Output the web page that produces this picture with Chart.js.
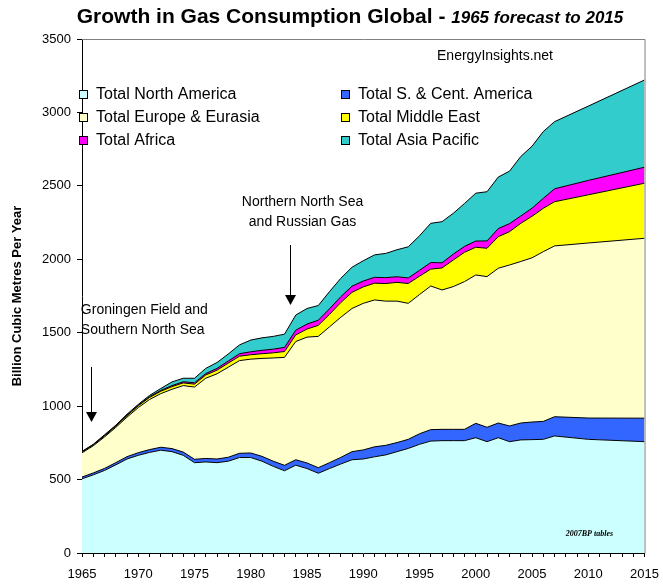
<!DOCTYPE html>
<html>
<head>
<meta charset="utf-8">
<script src="https://cdn.jsdelivr.net/npm/chart.js@4.4.1/dist/chart.umd.min.js"></script>
<style>
  body { margin: 0; background: #fff; }
  #wrap { position: relative; width: 663px; height: 585px; }
</style>
</head>
<body>
<div id="wrap"><canvas id="chart"></canvas></div>
<script>
// 年（1965〜2007は実績、2010と2015は予測）
const years = [1965, 1966, 1967, 1968, 1969, 1970, 1971, 1972, 1973, 1974,
  1975, 1976, 1977, 1978, 1979, 1980, 1981, 1982, 1983, 1984,
  1985, 1986, 1987, 1988, 1989, 1990, 1991, 1992, 1993, 1994,
  1995, 1996, 1997, 1998, 1999, 2000, 2001, 2002, 2003, 2004,
  2005, 2006, 2007, 2010, 2015];

// 地域別の消費量 (bcm)
const northAmerica = [505, 532, 562, 600, 640, 665, 685, 700, 690, 665,
  615, 620, 615, 625, 650, 650, 625, 590, 560, 598,
  575, 543, 575, 606, 635, 640, 655, 668, 690, 712,
  740, 762, 765, 765, 765, 785, 758, 785, 758, 770,
  772, 774, 797, 774, 758];
const southCentAmerica = [12, 13, 14, 15, 16, 18, 19, 20, 21, 22,
  23, 24, 25, 27, 29, 31, 33, 35, 37, 37,
  38, 38, 40, 45, 55, 62, 68, 65, 62, 62,
  72, 78, 77, 77, 77, 98, 98, 100, 107, 115,
  120, 122, 131, 145, 160];
const europeEurasia = [165, 185, 214, 240, 269, 307, 341, 365, 404, 453,
  492, 546, 580, 613, 631, 639, 667, 703, 735, 805,
  857, 894, 925, 954, 975, 998, 1000, 982, 963, 926,
  948, 978, 949, 972, 1006, 1010, 1026, 1054, 1096, 1100,
  1118, 1156, 1163, 1192, 1225];
const middleEast = [5, 6, 7, 8, 10, 12, 14, 16, 18, 18,
  20, 22, 25, 28, 30, 30, 32, 35, 40, 45,
  55, 75, 85, 100, 110, 112, 114, 120, 128, 135,
  125, 115, 150, 181, 200, 189, 193, 215, 227, 260,
  283, 295, 301, 328, 375];
const africa = [2, 2, 3, 3, 4, 4, 5, 6, 7, 8,
  9, 10, 12, 14, 17, 20, 23, 25, 28, 32,
  34, 35, 38, 40, 42, 40, 40, 40, 38, 38,
  40, 45, 35, 40, 40, 42, 50, 55, 55, 50,
  55, 68, 88, 98, 109];
const asiaPacific = [3, 2, 5, 4, 6, 6, 9, 13, 25, 24,
  31, 35, 40, 48, 60, 80, 85, 87, 90, 103,
  106, 100, 117, 125, 129, 138, 153, 165, 184, 212,
  235, 267, 280, 278, 292, 326, 335, 351, 357, 405,
  422, 455, 457, 506, 594];

const seriesNames = ["Total North America", "Total S. & Cent. America",
  "Total Europe & Eurasia", "Total Middle East", "Total Africa", "Total Asia Pacific"];
const seriesColors = ["#CCFFFF", "#3366FF", "#FFFFCC", "#FFFF00", "#FF00FF", "#33CCCC"];
const seriesValues = [northAmerica, southCentAmerica, europeEurasia, middleEast, africa, asiaPacific];

const yTicks = [0, 500, 1000, 1500, 2000, 2500, 3000, 3500];
const FONT = "Arial, 'Liberation Sans', sans-serif";

// 注釈（データ座標）
const notes = [
  { lines: ["Northern North Sea", "and Russian Gas"], x: 1984.6, y: [2390, 2254], align: "center",
    arrow: { x: 1983.5, from: 2097, to: 1689 } },
  { lines: ["Groningen Field and", "Southern North Sea"], x: 1964.9, y: [1655, 1519], align: "left",
    arrow: { x: 1965.8, from: 1267, to: 892 } },
];

const datasets = seriesValues.map((vals, i) => ({
  label: seriesNames[i],
  data: years.map((yr, j) => ({ x: yr, y: vals[j] })),
  backgroundColor: seriesColors[i],
  borderColor: "#000",
  borderWidth: 1,
  pointRadius: 0,
  tension: 0,
  fill: i === 0 ? "origin" : "-1",
}));

// タイトル・凡例・注釈を描く
const decorPlugin = {
  id: "decor",
  afterDraw(chart) {
    const ctx = chart.ctx;
    const area = chart.chartArea;
    const xs = chart.scales.x;
    const ys = chart.scales.y;
    ctx.save();

    // 枠線（上と右）
    ctx.strokeStyle = "#808080";
    ctx.lineWidth = 1;
    ctx.beginPath();
    ctx.moveTo(area.left, area.top + 0.5);
    ctx.lineTo(area.right + 0.5, area.top + 0.5);
    ctx.lineTo(area.right + 0.5, area.bottom);
    ctx.stroke();

    // タイトル
    const t1 = "Growth in Gas Consumption Global - ";
    const t2 = "1965 forecast to 2015";
    ctx.fillStyle = "#000";
    ctx.textBaseline = "middle";
    ctx.font = "bold 21px " + FONT;
    const w1 = ctx.measureText(t1).width;
    ctx.font = "italic bold 17px " + FONT;
    const w2 = ctx.measureText(t2).width;
    const tx = 350 - (w1 + w2) / 2;
    ctx.textAlign = "left";
    ctx.font = "bold 21px " + FONT;
    ctx.fillText(t1, tx, 17);
    ctx.font = "italic bold 17px " + FONT;
    ctx.fillText(t2, tx + w1, 18);

    // 凡例
    ctx.font = "16px " + FONT;
    chart.data.datasets.forEach((ds, i) => {
      const col = i % 2;
      const row = Math.floor(i / 2);
      const bx = col === 0 ? 79 : 341;
      const by = 90 + row * 23;
      ctx.fillStyle = ds.backgroundColor;
      ctx.fillRect(bx, by, 9, 9);
      ctx.strokeStyle = "#000";
      ctx.strokeRect(bx + 0.5, by + 0.5, 8, 8);
      ctx.fillStyle = "#000";
      ctx.textAlign = "left";
      ctx.fillText(ds.label, bx + 17, by + 5);
    });

    ctx.font = "14px " + FONT;
    ctx.textAlign = "center";
    ctx.fillText("EnergyInsights.net", 495, 56);

    // 注釈と矢印
    notes.forEach((n) => {
      ctx.font = "14px " + FONT;
      ctx.textAlign = n.align;
      n.lines.forEach((line, k) => {
        ctx.fillText(line, xs.getPixelForValue(n.x), ys.getPixelForValue(n.y[k]));
      });
      const ax = Math.round(xs.getPixelForValue(n.arrow.x)) + 0.5;
      const y0 = ys.getPixelForValue(n.arrow.from);
      const y1 = ys.getPixelForValue(n.arrow.to);
      ctx.strokeStyle = "#000";
      ctx.beginPath();
      ctx.moveTo(ax, y0);
      ctx.lineTo(ax, y1 - 9);
      ctx.stroke();
      ctx.beginPath();
      ctx.moveTo(ax - 5.5, y1 - 10);
      ctx.lineTo(ax + 5.5, y1 - 10);
      ctx.lineTo(ax, y1);
      ctx.closePath();
      ctx.fill();
    });

    ctx.font = "italic bold 8px 'Liberation Serif', serif";
    ctx.textAlign = "center";
    ctx.fillText("2007BP tables", xs.getPixelForValue(2010.1), ys.getPixelForValue(129));
    ctx.restore();
  },
};

new Chart(document.getElementById("chart"), {
  type: "line",
  data: { datasets: datasets },
  options: {
    responsive: true,
    maintainAspectRatio: false,
    animation: false,
    layout: { padding: { top: 39, right: 18, left: 0, bottom: 0 } },
    plugins: {
      legend: { display: false },
      tooltip: { enabled: false },
    },
    scales: {
      x: {
        type: "linear",
        min: 1965,
        max: 2015,
        afterFit: (s) => { s.height = 32; },
        ticks: {
          stepSize: 1,
          autoSkip: false,
          maxRotation: 0,
          color: "#000",
          padding: 4,
          font: { family: FONT, size: 13, lineHeight: 2.1 },
          callback: (v) => (v % 5 === 0 ? String(v) : ""),
        },
        grid: { drawOnChartArea: false, drawTicks: true, tickLength: 4, color: "#000" },
        border: { color: "#000" },
      },
      y: {
        stacked: true,
        min: 0,
        max: 3500,
        afterFit: (s) => { s.width = 82; },
        afterBuildTicks: (s) => { s.ticks = yTicks.map((v) => ({ value: v })); },
        ticks: {
          color: "#000",
          padding: 6,
          font: { family: FONT, size: 13 },
          callback: (v) => String(v),
        },
        grid: { drawOnChartArea: false, drawTicks: true, tickLength: 5, color: "#000" },
        border: { color: "#000" },
        title: {
          display: true,
          text: "Billion Cubic Metres Per Year",
          color: "#000",
          font: { family: FONT, size: 13, weight: "bold" },
          padding: { top: 10, bottom: 0 },
        },
      },
    },
  },
  plugins: [decorPlugin],
});
</script>
</body>
</html>
